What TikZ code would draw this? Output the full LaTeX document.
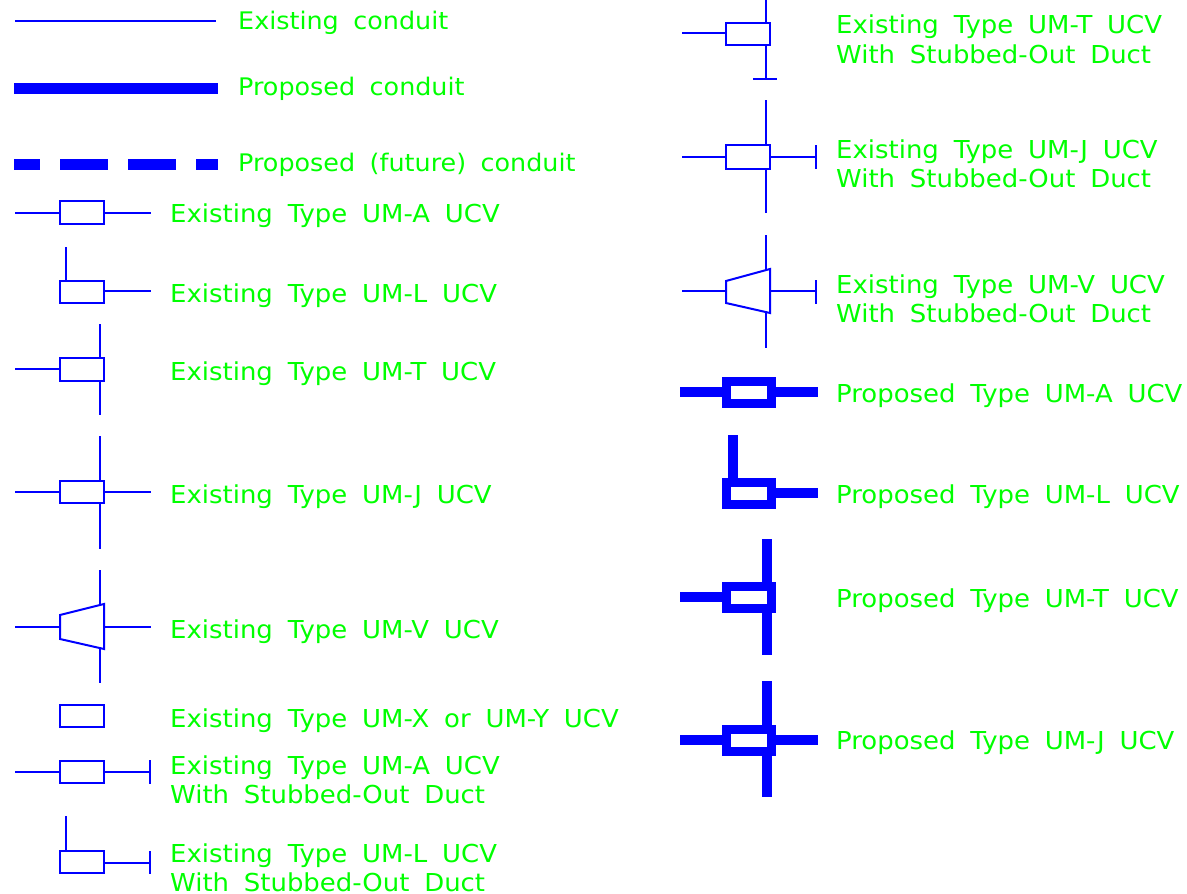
\documentclass[tikz,border=0pt]{standalone}
\usepackage{fontspec}
\setmainfont{DejaVu Sans}[FakeStretch=1.05,WordSpace=1.8]
\tikzset{
  exline/.style={draw=blue, line width=2pt},
  prline/.style={draw=blue, line width=9.5pt},
  prbox/.style={draw=blue, line width=9pt},
  lbl/.style={text=green, font=\fontsize{24.7}{29}\selectfont, anchor=base west, inner sep=0pt, align=left},
  toplbl/.style={lbl, font=\fontsize{24.2}{29}\selectfont},
}
\definecolor{blue}{RGB}{0,0,255}
\definecolor{green}{RGB}{0,255,0}
\begin{document}
\begin{tikzpicture}[x=1pt, y=-1pt]
  \useasboundingbox (0,0) rectangle (1187,894);
  % conduits
  \draw[exline] (15,21) -- (216,21);
  \draw[prline, line width=11pt] (14,88) -- (218,88);
  \draw[prline, line width=11pt, dash pattern=on 48pt off 20pt, dash phase=22pt] (14,164) -- (218,164);
  \node[toplbl] (existcond) at (238,30) {Existing conduit};
  \node[toplbl] (propcond) at (238,95) {Proposed conduit};
  \node[toplbl] (futurecond) at (238,171) {Proposed (future) conduit};
  % existing, left column
  \draw[exline] (15,213) -- (60,213) (104,213) -- (151,213);
  \draw[exline] (60,201) rectangle (104,224);
  \node[lbl] (exA) at (170,222) {Existing Type UM-A UCV};
  \draw[exline] (66,247) -- (66,281) (104,291) -- (151,291);
  \draw[exline] (60,281) rectangle (104,303);
  \node[lbl] (exL) at (170,302) {Existing Type UM-L UCV};
  \draw[exline] (15,369) -- (60,369) (100,324) -- (100,358) (100,381) -- (100,415);
  \draw[exline] (60,358) rectangle (104,381);
  \node[lbl] (exT) at (170,380) {Existing Type UM-T UCV};
  \draw[exline] (15,492) -- (60,492) (104,492) -- (151,492) (100,436) -- (100,481) (100,503) -- (100,549);
  \draw[exline] (60,481) rectangle (104,503);
  \node[lbl] (exJ) at (170,503) {Existing Type UM-J UCV};
  \draw[exline] (15,627) -- (60,627) (104,627) -- (151,627) (100,570) -- (100,605) (100,648) -- (100,683);
  \draw[exline] (60,615) -- (104,604) -- (104,649) -- (60,639) -- cycle;
  \node[lbl] (exV) at (170,638) {Existing Type UM-V UCV};
  \draw[exline] (60,705) rectangle (104,727);
  \node[lbl] (exX) at (170,727) {Existing Type UM-X or UM-Y UCV};
  \draw[exline] (15,772) -- (60,772) (104,772) -- (150,772) (150,760) -- (150,784);
  \draw[exline] (60,761) rectangle (104,783);
  \node[lbl] (exAs) at (170,803) {Existing Type UM-A UCV\\With Stubbed-Out Duct};
  \draw[exline] (66,816) -- (66,851) (104,863) -- (150,863) (150,851) -- (150,874);
  \draw[exline] (60,851) rectangle (104,873);
  \node[lbl] (exLs) at (170,891) {Existing Type UM-L UCV\\With Stubbed-Out Duct};
  % existing, right column
  \draw[exline] (682,33) -- (726,33) (766,0) -- (766,23) (766,45) -- (766,79) (753,79) -- (777,79);
  \draw[exline] (726,23) rectangle (770,45);
  \node[lbl] (exTs) at (836,63) {Existing Type UM-T UCV\\With Stubbed-Out Duct};
  \draw[exline] (682,157) -- (726,157) (770,157) -- (816,157) (816,145) -- (816,169) (766,100) -- (766,145) (766,169) -- (766,213);
  \draw[exline] (726,145) rectangle (770,169);
  \node[lbl] (exJs) at (836,187) {Existing Type UM-J UCV\\With Stubbed-Out Duct};
  \draw[exline] (682,291) -- (726,291) (770,291) -- (816,291) (816,280) -- (816,304) (766,235) -- (766,270) (766,312) -- (766,348);
  \draw[exline] (726,281) -- (770,269) -- (770,313) -- (726,303) -- cycle;
  \node[lbl] (exVs) at (836,322) {Existing Type UM-V UCV\\With Stubbed-Out Duct};
  % proposed
  \draw[prline] (680,392) -- (726,392) (771,392) -- (818,392);
  \draw[prbox] (726,381) rectangle (771,403);
  \node[lbl] (prA) at (836,402) {Proposed Type UM-A UCV};
  \draw[prline] (733,435) -- (733,482) (771,493) -- (818,493);
  \draw[prbox] (726,482) rectangle (771,504);
  \node[lbl] (prL) at (836,503) {Proposed Type UM-L UCV};
  \draw[prline] (680,597) -- (726,597) (767,539) -- (767,586) (767,608) -- (767,655);
  \draw[prbox] (726,586) rectangle (771,608);
  \node[lbl] (prT) at (836,607) {Proposed Type UM-T UCV};
  \draw[prline] (680,740) -- (726,740) (771,740) -- (818,740) (767,681) -- (767,729) (767,751) -- (767,797);
  \draw[prbox] (726,729) rectangle (771,751);
  \node[lbl] (prJ) at (836,749) {Proposed Type UM-J UCV};
\end{tikzpicture}
\end{document}
